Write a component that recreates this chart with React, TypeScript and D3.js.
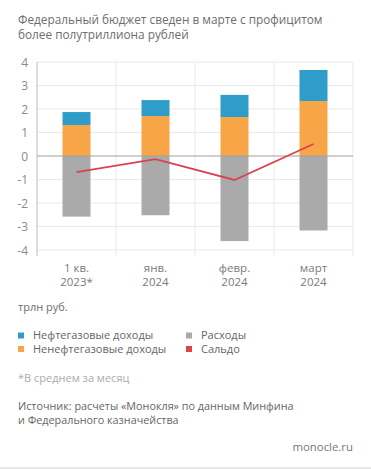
import { useRef, useEffect } from "react";
import * as d3 from "d3";

// Periods on the x axis (two-line labels)
const periods = ["1 кв.|2023*", "янв.|2024", "февр.|2024", "март|2024"];

// Series, trillion rubles
const oilGas = [0.55, 0.68, 0.94, 1.32];
const nonOilGas = [1.32, 1.7, 1.66, 2.34];
const expenses = [-2.58, -2.52, -3.62, -3.17];
const balance = [-0.69, -0.13, -1.02, 0.51];

const yTicks = [4, 3, 2, 1, 0, -1, -2, -3, -4];

const titleLines = [
  "Федеральный бюджет сведен в марте с профицитом",
  "более полутриллиона рублей",
];

const legendItems = [
  { label: "Нефтегазовые доходы", color: "#2f9dc9" },
  { label: "Ненефтегазовые доходы", color: "#f8a547" },
  { label: "Расходы", color: "#aaaaaa" },
  { label: "Сальдо", color: "#e0434d" },
];

const sourceLines = [
  "Источник: расчеты «Монокля» по данным Минфина",
  "и Федерального казначейства",
];

const W = 371;
const H = 469;
const FONT = "'Open Sans', sans-serif";

const App = () => {
  const svgRef = useRef<SVGSVGElement | null>(null);

  useEffect(() => {
    document.body.style.margin = "0";
    if (!svgRef.current) return;

    const svg = d3.select(svgRef.current);
    svg.selectAll("*").remove();

    svg.append("rect").attr("width", W).attr("height", H).attr("fill", "#fff");

    // Title
    svg
      .append("g")
      .selectAll("text")
      .data(titleLines)
      .enter()
      .append("text")
      .attr("x", 18)
      .attr("y", (_d, i) => 24 + i * 15)
      .text((d) => d)
      .style("font-family", FONT)
      .style("font-size", "11.8px")
      .style("fill", "#6e6e6e");

    const left = 37;
    const right = 353;
    const x = d3.scaleBand<string>().domain(periods).range([left, right]);
    const y = d3.scaleLinear().domain([-4, 4]).range([250, 62]);
    const barW = 28;
    const cx = (d: string) => (x(d) ?? 0) + x.bandwidth() / 2;

    const g = svg.append("g");

    // Horizontal grid
    g.selectAll("line.h")
      .data(yTicks.filter((t) => t !== 0))
      .enter()
      .append("line")
      .attr("x1", left)
      .attr("x2", right)
      .attr("y1", (d) => y(d))
      .attr("y2", (d) => y(d))
      .attr("stroke", "#e9e9e9")
      .attr("stroke-width", 1);

    // Vertical grid (band boundaries)
    g.selectAll("line.v")
      .data(periods)
      .enter()
      .append("line")
      .attr("x1", (d) => (x(d) ?? 0) + x.bandwidth())
      .attr("x2", (d) => (x(d) ?? 0) + x.bandwidth())
      .attr("y1", y(4))
      .attr("y2", y(-4) + 6)
      .attr("stroke", "#e9e9e9")
      .attr("stroke-width", 1);

    // Left axis line
    g.append("line")
      .attr("x1", left)
      .attr("x2", left)
      .attr("y1", y(4))
      .attr("y2", y(-4) + 6)
      .attr("stroke", "#bdbdbd");

    // Y tick labels
    g.selectAll("text.yt")
      .data(yTicks)
      .enter()
      .append("text")
      .attr("x", 28)
      .attr("y", (d) => y(d) + 4.5)
      .attr("text-anchor", "end")
      .text((d) => String(d))
      .style("font-family", FONT)
      .style("font-size", "12px")
      .style("fill", "#8a8a8a");

    // Expenses (down from zero)
    g.selectAll("rect.exp")
      .data(periods)
      .enter()
      .append("rect")
      .attr("x", (d) => cx(d) - barW / 2)
      .attr("y", y(0))
      .attr("width", barW)
      .attr("height", (_d, i) => y(expenses[i]) - y(0))
      .attr("fill", legendItems[2].color);

    // Non-oil revenues
    g.selectAll("rect.non")
      .data(periods)
      .enter()
      .append("rect")
      .attr("x", (d) => cx(d) - barW / 2)
      .attr("y", (_d, i) => y(nonOilGas[i]))
      .attr("width", barW)
      .attr("height", (_d, i) => y(0) - y(nonOilGas[i]))
      .attr("fill", legendItems[1].color);

    // Oil & gas revenues stacked on top
    g.selectAll("rect.oil")
      .data(periods)
      .enter()
      .append("rect")
      .attr("x", (d) => cx(d) - barW / 2)
      .attr("y", (_d, i) => y(nonOilGas[i] + oilGas[i]))
      .attr("width", barW)
      .attr("height", (_d, i) => y(nonOilGas[i]) - y(nonOilGas[i] + oilGas[i]))
      .attr("fill", legendItems[0].color);

    // Zero line
    g.append("line")
      .attr("x1", left)
      .attr("x2", right)
      .attr("y1", y(0))
      .attr("y2", y(0))
      .attr("stroke", "#a0a0a0")
      .attr("stroke-width", 1);

    // Balance line
    const line = d3
      .line<number>()
      .x((_d, i) => cx(periods[i]))
      .y((d) => y(d));
    g.append("path")
      .datum(balance)
      .attr("d", line)
      .attr("fill", "none")
      .attr("stroke", "#d9434f")
      .attr("stroke-width", 1.8);

    // X labels
    const xl = g
      .selectAll("text.xl")
      .data(periods)
      .enter()
      .append("text")
      .attr("text-anchor", "middle")
      .style("font-family", FONT)
      .style("font-size", "11.5px")
      .style("fill", "#7a7a7a");
    xl.selectAll("tspan")
      .data((d) => d.split("|").map((s) => ({ s, d })))
      .enter()
      .append("tspan")
      .attr("x", (t) => cx(t.d))
      .attr("y", (_t, i) => 272 + i * 13.5)
      .text((t) => t.s);

    // Unit
    svg
      .append("text")
      .attr("x", 18)
      .attr("y", 311)
      .text("трлн руб.")
      .style("font-family", FONT)
      .style("font-size", "11px")
      .style("fill", "#6e6e6e");

    // Legend
    const lg = svg
      .append("g")
      .selectAll("g")
      .data(legendItems)
      .enter()
      .append("g")
      .attr(
        "transform",
        (_d, i) => `translate(${i < 2 ? 18 : 186},${339 + (i % 2) * 13.5})`
      );
    lg.append("rect")
      .attr("x", 0)
      .attr("y", -6.5)
      .attr("width", 6)
      .attr("height", 6)
      .attr("fill", (d) => d.color);
    lg.append("text")
      .attr("x", 15)
      .attr("y", 0)
      .text((d) => d.label)
      .style("font-family", FONT)
      .style("font-size", "11px")
      .style("fill", "#666");

    // Footnote
    svg
      .append("text")
      .attr("x", 18)
      .attr("y", 382)
      .text("*В среднем за месяц")
      .style("font-family", FONT)
      .style("font-size", "11px")
      .style("fill", "#ababab");

    // Source
    svg
      .append("g")
      .selectAll("text")
      .data(sourceLines)
      .enter()
      .append("text")
      .attr("x", 18)
      .attr("y", (_d, i) => 410 + i * 13.5)
      .text((d) => d)
      .style("font-family", FONT)
      .style("font-size", "10.8px")
      .style("fill", "#666");

    svg
      .append("text")
      .attr("x", 353)
      .attr("y", 451)
      .attr("text-anchor", "end")
      .text("monocle.ru")
      .style("font-family", FONT)
      .style("font-size", "11.4px")
      .style("fill", "#777");

    svg
      .append("line")
      .attr("x1", 0)
      .attr("x2", W)
      .attr("y1", H - 1)
      .attr("y2", H - 1)
      .attr("stroke", "#cfcfcf");
  }, []);

  return <svg ref={svgRef} width={W} height={H} style={{ display: "block" }}></svg>;
};

export default App;
